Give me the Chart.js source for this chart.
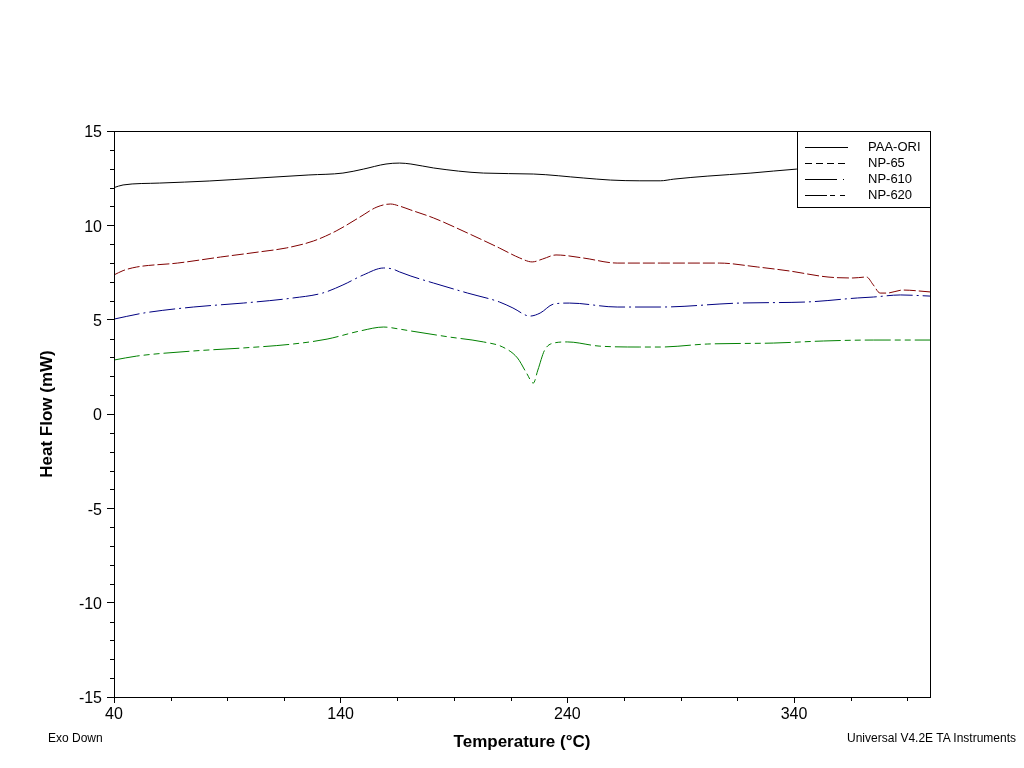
<!DOCTYPE html>
<html>
<head>
<meta charset="utf-8">
<title>DSC – Heat Flow</title>
<script src="https://cdn.jsdelivr.net/npm/chart.js@4.4.1/dist/chart.umd.min.js"></script>
<style>
  html, body { margin:0; padding:0; background:#fff; }
  #wrap { position:relative; width:1024px; height:768px; }
  canvas { display:block; }
  .note { position:absolute; top:731px; font:12px/14px "Liberation Sans", Arial, sans-serif; color:#000; white-space:nowrap; }
</style>
</head>
<body>
<div id="wrap">
  <canvas id="dscChart" width="1024" height="768"></canvas>
  <div class="note" style="left:48px">Exo Down</div>
  <div class="note" style="right:8px">Universal V4.2E TA Instruments</div>
</div>
<script>
// ═══════════════════════════════════════════════════════════════
//  DATA  — temperature (°C) / heat flow (mW)
// ═══════════════════════════════════════════════════════════════

const PAA_T  = [40, 44, 60, 82, 104, 126, 141, 150, 160, 166, 171, 181, 203, 225, 247, 259, 272, 281, 287, 302, 321, 341, 360, 380, 400];
const PAA_HF = [12.0, 12.14, 12.24, 12.35, 12.51, 12.67, 12.77, 12.98, 13.25, 13.3, 13.25, 13.04, 12.77, 12.72, 12.51, 12.4, 12.36, 12.36, 12.45, 12.61, 12.77, 12.98, 13.1, 13.2, 13.25];

const NP65_T  = [40, 44, 50, 68, 87, 104, 116, 128, 138, 148.5, 156, 162, 166, 171, 181, 196, 210, 219, 224.5, 229, 235, 247, 262, 281, 307, 324, 338, 355, 366, 372, 375, 378, 381, 388, 400];
const NP65_HF = [7.37, 7.6, 7.79, 8.0, 8.32, 8.59, 8.8, 9.17, 9.7, 10.44, 10.97, 11.13, 11.02, 10.81, 10.39, 9.59, 8.8, 8.27, 8.06, 8.21, 8.43, 8.27, 8.0, 8.0, 8.0, 7.79, 7.58, 7.26, 7.21, 7.26, 6.84, 6.41, 6.41, 6.57, 6.47];

const NP610_T  = [40, 53, 75, 97, 119, 132, 141, 150, 159, 163, 166, 171, 181, 196, 210, 216, 223.5, 228, 234, 241, 262, 281, 316, 346, 368, 375, 387, 400];
const NP610_HF = [5.03, 5.35, 5.67, 5.88, 6.15, 6.41, 6.84, 7.37, 7.74, 7.68, 7.53, 7.31, 6.94, 6.41, 5.94, 5.62, 5.19, 5.35, 5.83, 5.88, 5.67, 5.67, 5.88, 5.94, 6.15, 6.2, 6.31, 6.25];

const NP620_T  = [40, 50, 75, 97, 119, 134, 148.5, 159, 166, 171, 188, 203, 211.5, 218, 222, 225, 227, 230, 234, 240, 254, 272, 281, 302, 331, 353, 375, 400];
const NP620_HF = [2.86, 3.07, 3.34, 3.5, 3.71, 3.97, 4.4, 4.61, 4.5, 4.4, 4.08, 3.82, 3.55, 2.97, 2.17, 1.64, 2.33, 3.39, 3.76, 3.82, 3.6, 3.55, 3.55, 3.71, 3.76, 3.87, 3.92, 3.92];

const X_TICKS = [40, 140, 240, 340];

// ═══════════════════════════════════════════════════════════════
//  STYLES
// ═══════════════════════════════════════════════════════════════

const FONT = '"Liberation Sans", Arial, sans-serif';
const INK  = '#000';

const SERIES = [
  { label:'PAA-ORI', t:PAA_T,   hf:PAA_HF,   color:'#000000', dash:[],                  legendDash:[] },
  { label:'NP-65',   t:NP65_T,  hf:NP65_HF,  color:'#800000', dash:[12,3],              legendDash:[7,4] },
  { label:'NP-610',  t:NP610_T, hf:NP610_HF, color:'#000080', dash:[26,4,2,4],          legendDash:[32,6,1,10] },
  { label:'NP-620',  t:NP620_T, hf:NP620_HF, color:'#008000', dash:[26,4,6,4,6,4],      legendDash:[22,3,5,5,5,10] },
];

// ── Plot frame, minor ticks and boxed legend ─────────────────
const frameAndLegend = {
  id: 'frameAndLegend',
  afterDatasetsDraw(chart) {
    const { ctx, chartArea: a } = chart;
    // legend box, top-right inside the plot
    const w = 133, h = 76, lx = a.right - w, ly = a.top;
    ctx.save();
    ctx.fillStyle = '#fff';
    ctx.fillRect(lx, ly, w, h);
    ctx.strokeStyle = INK; ctx.lineWidth = 1;
    ctx.strokeRect(lx + 0.5, ly + 0.5, w, h);
    ctx.font = '13px ' + FONT;
    ctx.textBaseline = 'middle';
    ctx.fillStyle = INK;
    SERIES.forEach((s, i) => {
      const y = Math.round(ly + 16 + i * 16) + 0.5;
      ctx.setLineDash(s.legendDash);
      ctx.beginPath(); ctx.moveTo(lx + 8, y); ctx.lineTo(lx + 51, y); ctx.stroke();
      ctx.setLineDash([]);
      ctx.fillText(s.label, lx + 71, y);
    });
    ctx.restore();
  },
  afterDraw(chart) {
    const { ctx, chartArea: a, scales: { x, y } } = chart;
    ctx.save();
    ctx.strokeStyle = INK; ctx.lineWidth = 1;
    ctx.strokeRect(a.left + 0.5, a.top + 0.5, a.right - a.left, a.bottom - a.top);
    ctx.beginPath();
    for (let v = 40; v <= 400; v += 25) {
      if (X_TICKS.includes(v)) continue;
      const px = Math.round(x.getPixelForValue(v)) + 0.5;
      ctx.moveTo(px, a.bottom); ctx.lineTo(px, a.bottom + 4);
    }
    for (let v = -15; v <= 15; v += 1) {
      if (v % 5 === 0) continue;
      const py = Math.round(y.getPixelForValue(v)) + 0.5;
      ctx.moveTo(a.left - 4, py); ctx.lineTo(a.left, py);
    }
    ctx.stroke();
    ctx.restore();
  }
};

// ═══════════════════════════════════════════════════════════════
//  CHART INIT
// ═══════════════════════════════════════════════════════════════

new Chart(document.getElementById('dscChart'), {
  type: 'line',
  data: {
    datasets: SERIES.map(s => ({
      label: s.label,
      data: s.t.map((t, i) => ({ x:t, y:s.hf[i] })),
      borderColor: s.color,
      borderWidth: 1,
      borderDash: s.dash,
      pointRadius: 0,
      fill: false,
      cubicInterpolationMode: 'monotone',
    }))
  },
  options: {
    responsive: false, animation: false, devicePixelRatio: 1,
    layout: { padding: { top:131, right:94, bottom:0, left:0 } },
    plugins: { legend: { display:false }, tooltip: { enabled:false } },
    scales: {
      x: {
        type: 'linear', min: 40, max: 400,
        afterBuildTicks: s => { s.ticks = X_TICKS.map(v => ({ value:v })); },
        afterFit: s => { s.height = 71; },
        grid:   { drawOnChartArea:false, tickLength:6, color:INK },
        border: { display:false },
        ticks:  { color:INK, font:{ family:FONT, size:16 }, padding:2, maxRotation:0, autoSkip:false },
        title:  { display:true, text:'Temperature (°C)', color:INK, font:{ family:FONT, size:17, weight:'bold' }, padding:{ top:0, bottom:15 } }
      },
      y: {
        min: -15, max: 15,
        ticks:  { stepSize:5, color:INK, font:{ family:FONT, size:16 }, padding:5, labelOffset:2 },
        afterFit: s => { s.width = 114; },
        grid:   { drawOnChartArea:false, tickLength:7, color:INK },
        border: { display:false },
        title:  { display:true, text:'Heat Flow (mW)', color:INK, font:{ family:FONT, size:17, weight:'bold' }, padding:{ top:37, bottom:0 } }
      }
    }
  },
  plugins: [frameAndLegend]
});
</script>
</body>
</html>
